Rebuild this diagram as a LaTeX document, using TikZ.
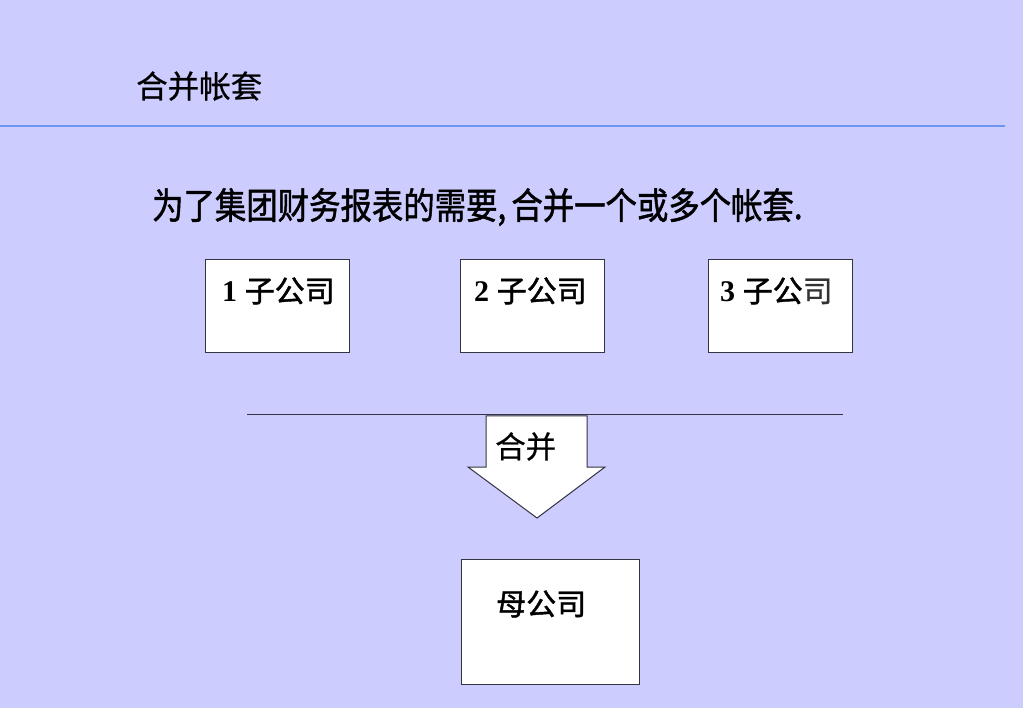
\documentclass[tikz,border=0pt]{standalone}
\usepackage{fontspec}
\setmainfont{Liberation Serif}
\newfontfamily\cjk[FakeBold=0.6]{Noto Sans CJK SC}
\newfontfamily\cjkh[FakeBold=1.4]{Noto Sans CJK SC}
\definecolor{bgc}{HTML}{CCCCFF}
\definecolor{rulec}{HTML}{6E95F0}
\definecolor{edgec}{HTML}{333344}
\tikzset{
  boxn/.style={draw=edgec, line width=1pt, fill=white, inner sep=0pt},
  lbl/.style={anchor=base west, inner sep=0pt, font=\fontsize{30}{32}\selectfont},
}
\begin{document}
\begin{tikzpicture}[x=1pt,y=-1pt]
\fill[bgc] (0,0) rectangle (1023,708);
\useasboundingbox (0,0) rectangle (1023,708);
% title
\node[lbl, font=\fontsize{31.5}{33}\selectfont] (title) at (136,98) {\cjk 合并帐套};
\coordinate (r1) at (0,126);
\coordinate (r2) at (1005,126);
\draw[rulec, line width=2.5pt] (r1) -- (r2);
% subtitle
\node[lbl, font=\fontsize{36.5}{38}\selectfont, xscale=0.86] (sub) at (152,219) {\cjkh 为了集团财务报表的需要,\,合并一个或多个帐套.};
% boxes
\node[boxn, minimum width=144pt, minimum height=93pt] (b1) at (277,306.5) {};
\node[boxn, minimum width=144pt, minimum height=93pt] (b2) at (532.5,306.5) {};
\node[boxn, minimum width=144pt, minimum height=93pt] (b3) at (780,306.5) {};
\node[lbl] (l1) at (222,302) {\textbf{1}\ \cjkh 子公司};
\node[lbl] (l2) at (474,302) {\textbf{2}\ \cjkh 子公司};
\node[lbl] (l3) at (720,302) {\textbf{3}\ \cjkh 子公{\cjk\color{black!80}司}};
% horizontal line
\coordinate (h1) at (247,415);
\coordinate (h2) at (843,415);
\draw[edgec, line width=1pt] (h1) -- (h2);
% block arrow
\draw[edgec, line width=1pt, fill=white, line join=miter]
  (486,416) -- (587,416) -- (587,467) -- (605,467) -- (537,518) -- (468,467) -- (486,467) -- cycle;
\node[lbl, font=\fontsize{30.5}{32}\selectfont] (merge) at (495,458) {\cjk 合并};
% parent
\node[boxn, minimum width=178pt, minimum height=125pt] (p) at (550,621.5) {};
\node[lbl] (pl) at (496,615) {\cjkh 母公司};
\end{tikzpicture}
\end{document}
